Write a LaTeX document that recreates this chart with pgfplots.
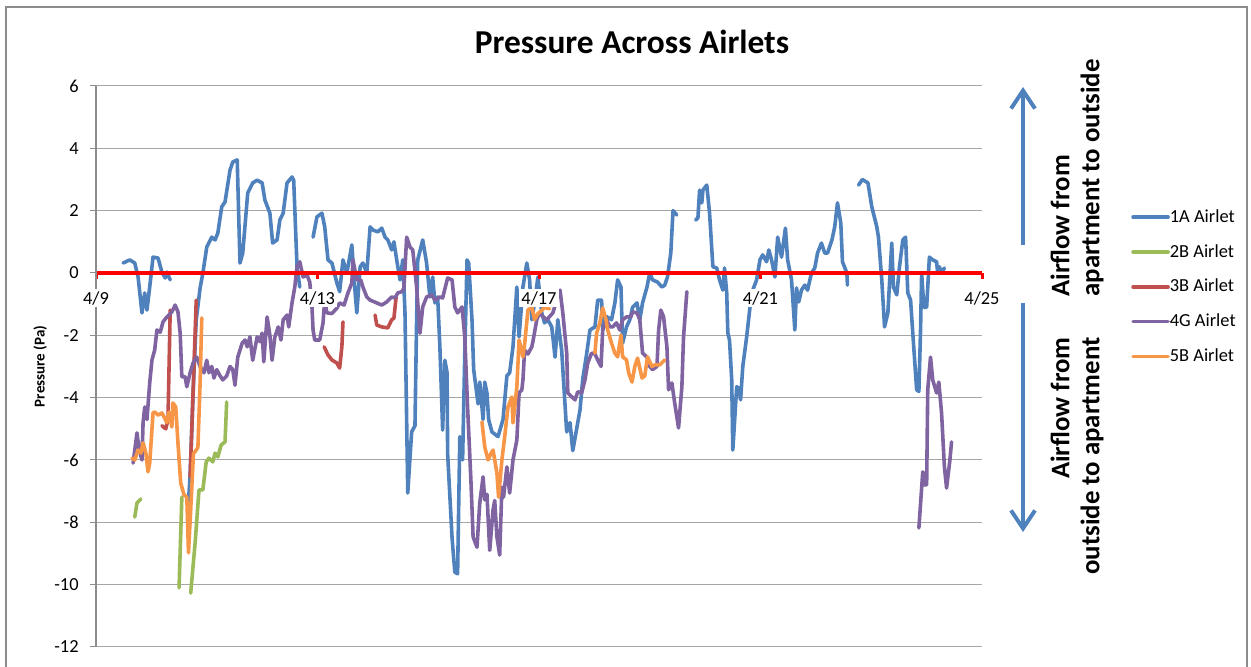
\documentclass[border=0pt]{standalone}
\usepackage{fontspec}
\setmainfont{Carlito}
\usepackage{pgfplots}
\pgfplotsset{compat=1.18}
\usetikzlibrary{arrows.meta}

\definecolor{c1A}{HTML}{4F81BD}
\definecolor{c2B}{HTML}{9BBB59}
\definecolor{c3B}{HTML}{C0504D}
\definecolor{c4G}{HTML}{8064A2}
\definecolor{c5B}{HTML}{F79646}

% grid behind the curves, axis lines and tick labels above them
\pgfplotsset{
  layers/airlets/.define layer set={axis background,axis grid,pre main,main,axis ticks,axis lines,axis tick labels,axis descriptions,axis foreground}{
    grid style={/pgfplots/on layer=axis grid},
    tick style={/pgfplots/on layer=axis ticks},
    axis line style={/pgfplots/on layer=axis lines},
    label style={/pgfplots/on layer=axis descriptions},
    legend style={/pgfplots/on layer=axis descriptions},
    title style={/pgfplots/on layer=axis descriptions},
    colorbar style={/pgfplots/on layer=axis descriptions},
    ticklabel style={/pgfplots/on layer=axis tick labels},
    axis background@ style={/pgfplots/on layer=axis background},
    3d box foreground style={/pgfplots/on layer=axis foreground},
  },
}

\begin{document}
\begin{tikzpicture}
\begin{axis}[
  at={(48pt,10pt)}, anchor=south west,
  scale only axis, width=443pt, height=280.5pt,
  set layers=airlets,
  xmin=0, xmax=16, ymin=-12, ymax=6,
  axis x line=middle, axis y line=left,
  hide obscured x ticks=false, hide obscured y ticks=false,
  x axis line style={draw=red, line width=2pt, -},
  y axis line style={draw=black!45, line width=0.6pt, -},
  xtick={0,4,8,12,16}, xticklabels={4/9,4/13,4/17,4/21,4/25},
  ytick={-12,-10,-8,-6,-4,-2,0,2,4,6},
  yticklabels={-12,-10,-8,-6,-4,-2,0,2,4,6},
  ymajorgrids, grid style={black!35, line width=0.5pt},
  tick align=outside, major tick length=3pt,
  xtick style={draw=red, line width=1.5pt},
  ytick style={draw=black!45, line width=0.5pt},
  ticklabel style={font=\fontsize{9.2}{11}\selectfont},
  xticklabel style={fill=white, inner sep=1pt, yshift=-5pt},
  yticklabel style={inner sep=0pt, xshift=-5.5pt},
  ylabel={Pressure (Pa)},
  ylabel style={font=\bfseries\fontsize{7.5}{9}\selectfont, at={(axis description cs:-0.063,0.5)}, anchor=center},
  unbounded coords=jump,
  every axis plot/.append style={line width=1.8pt, line join=round, line cap=round},
  legend style={at={(axis description cs:1.168,0.781)}, anchor=north west, draw=none, fill=none,
    font=\fontsize{9.2}{11}\selectfont, row sep=9.4pt, inner sep=0pt,
    nodes={inner sep=0pt, text height=6.5pt, text depth=1.5pt}},
  legend cell align=left,
  legend image code/.code={\draw[#1, line width=1.8pt] (0pt,0pt) -- (17.5pt,0pt);},
  /tikz/every even column/.append style={column sep=3pt},
]

% 1A Airlet
\addplot[c1A] coordinates {
(0.49,0.32)(0.61,0.42)(0.70,0.32)(0.76,-0.13)(0.83,-1.28)(0.88,-0.64)(0.92,-1.19)(0.97,-0.45)
(1.03,0.51)(1.12,0.48)(1.19,0.03)(1.25,-0.16)(1.28,0.03)(1.34,-0.22)
(1.50,nan)
(1.66,-7.6)(1.70,-6.5)(1.75,-4.0)(1.81,-1.5)(1.88,-0.48)(1.93,0.0)(2.00,0.83)(2.09,1.15)
(2.15,1.06)(2.20,1.28)(2.27,2.12)(2.33,2.28)(2.42,3.3)(2.47,3.56)(2.55,3.63)(2.60,0.32)
(2.65,0.64)(2.74,2.57)(2.83,2.89)(2.91,2.98)(3.00,2.89)(3.05,2.34)(3.14,1.92)(3.19,0.96)
(3.27,1.06)(3.32,1.7)(3.38,1.92)(3.45,2.89)(3.54,3.08)(3.57,2.98)(3.63,0.2)(3.68,-0.45)
(3.80,nan)
(3.92,1.15)(3.99,1.8)(4.08,1.92)(4.13,1.48)(4.19,0.42)(4.26,0.32)(4.35,-0.32)(4.40,-0.6)
(4.46,0.42)(4.53,0.0)(4.62,0.9)(4.68,-0.64)(4.71,-1.28)(4.77,0.2)(4.82,0.32)(4.89,0.0)
(4.95,1.48)(5.00,1.38)(5.09,1.32)(5.16,1.44)(5.22,1.15)(5.27,1.06)(5.34,0.74)(5.38,1.0)
(5.43,0.42)(5.49,-0.22)(5.54,0.42)(5.58,-1.28)(5.63,-7.06)(5.70,-5.1)(5.76,-4.9)(5.79,-1.5)
(5.81,0.42)(5.90,1.06)(5.97,0.32)(6.03,-0.77)(6.08,-0.13)(6.12,-0.96)(6.17,-0.77)(6.21,-2.37)
(6.26,-5.04)(6.30,-2.8)(6.34,-3.2)(6.35,-5.8)(6.43,-8.5)(6.48,-9.6)(6.53,-9.65)(6.57,-5.25)
(6.62,-6.0)(6.66,-2.57)(6.70,0.42)(6.73,0.32)(6.79,-1.5)(6.82,-3.1)(6.90,-4.2)(6.93,-3.5)
(6.97,-4.3)(6.99,-4.7)(7.02,-3.5)(7.06,-3.85)(7.09,-4.7)(7.15,-5.1)(7.26,-5.25)(7.35,-4.7)
(7.42,-3.3)(7.47,-3.2)(7.53,-2.37)(7.60,-0.45)(7.64,-2.05)(7.71,-0.45)(7.78,0.32)(7.83,-0.22)
(7.87,-1.5)(7.92,-0.96)(7.98,-0.13)(8.05,-1.28)(8.10,-1.6)(8.16,-1.5)(8.23,-1.73)(8.29,-2.7)
(8.34,-1.5)(8.41,-2.5)(8.50,-5.1)(8.56,-4.8)(8.61,-5.7)(8.68,-5.0)(8.74,-4.4)(8.79,-3.4)
(8.86,-2.6)(8.92,-1.83)(9.01,-1.73)(9.06,-0.87)(9.13,-0.87)(9.15,-1.83)(9.22,-1.4)(9.31,-1.5)
(9.37,-0.96)(9.42,-0.22)(9.48,-0.45)(9.51,-2.25)(9.58,-1.73)(9.64,-1.5)(9.69,-1.1)(9.77,-0.96)
(9.82,-1.5)(9.87,-0.96)(9.95,-0.45)(10.00,0.0)(10.05,-0.22)(10.14,-0.29)(10.22,-0.45)(10.27,-0.39)
(10.32,-0.13)(10.38,0.64)(10.42,2.0)(10.49,1.86)
(10.65,nan)
(10.83,1.7)(10.87,1.77)(10.90,2.66)(10.94,2.25)(10.96,2.66)(11.03,2.82)(11.08,1.92)(11.14,0.2)
(11.21,0.16)(11.26,-0.22)(11.32,-0.55)(11.35,0.16)(11.39,-0.64)(11.41,-1.93)(11.44,-2.15)(11.48,-3.43)
(11.50,-5.68)(11.57,-3.65)(11.61,-3.7)(11.64,-4.07)(11.68,-3.0)(11.75,-2.05)(11.81,-1.1)(11.86,-0.55)
(11.93,-0.22)(11.99,0.42)(12.04,0.58)(12.11,0.36)(12.15,0.74)(12.20,0.42)(12.26,-0.13)(12.31,1.15)
(12.38,0.51)(12.45,1.44)(12.49,0.42)(12.56,-0.22)(12.62,-1.83)(12.65,-0.48)(12.69,-0.93)(12.74,-0.55)
(12.80,-0.39)(12.85,-0.55)(12.92,0.0)(12.98,0.16)(13.03,0.64)(13.10,0.96)(13.16,0.64)(13.21,0.64)
(13.29,1.06)(13.34,1.48)(13.39,2.25)(13.45,1.6)(13.48,0.36)(13.56,0.0)(13.57,-0.39)
(13.68,nan)
(13.77,2.82)(13.84,3.0)(13.94,2.89)(14.01,2.12)(14.10,1.48)(14.13,1.15)(14.19,-0.22)(14.24,-1.73)
(14.30,-1.28)(14.37,0.96)(14.40,-0.45)(14.46,-0.7)(14.51,0.2)(14.57,1.06)(14.62,1.15)(14.66,-0.64)
(14.71,-0.87)(14.75,-1.93)(14.82,-3.75)(14.86,-3.8)(14.89,-1.83)(14.91,0.0)(14.95,-1.1)(15.00,-1.1)
(15.05,0.51)(15.11,0.42)(15.18,0.36)(15.20,0.0)(15.23,0.2)(15.27,0.0)(15.32,0.16)
};
\addlegendentry{1A Airlet}

% 2B Airlet
\addplot[c2B] coordinates {
(0.70,-7.83)(0.74,-7.38)(0.81,-7.25)
(1.20,nan)
(1.50,-10.1)(1.55,-7.19)
(1.62,nan)
(1.71,-10.27)(1.79,-8.66)(1.86,-6.96)(1.93,-6.96)(1.99,-6.06)(2.04,-5.94)(2.11,-6.06)(2.15,-5.78)
(2.20,-5.9)(2.26,-5.52)(2.33,-5.42)(2.36,-4.14)
};
\addlegendentry{2B Airlet}

% 3B Airlet
\addplot[c3B] coordinates {
(1.19,-4.9)(1.26,-5.0)(1.30,-4.7)(1.34,-1.19)
(1.50,nan)
(1.70,-6.54)(1.75,-4.0)(1.81,-0.87)
(3.00,nan)
(4.12,-2.37)(4.19,-2.63)(4.26,-2.79)(4.35,-2.89)(4.40,-3.05)(4.44,-2.37)(4.46,-1.57)
(4.80,nan)
(5.04,-1.35)(5.07,-1.67)(5.16,-1.73)(5.27,-1.76)(5.34,-1.5)(5.38,-1.45)(5.42,-0.77)
};
\addlegendentry{3B Airlet}

% 4G Airlet
\addplot[c4G] coordinates {
(0.67,-6.1)(0.74,-5.13)(0.78,-5.68)(0.83,-6.0)(0.85,-4.8)(0.88,-4.3)(0.92,-4.7)(0.97,-3.53)
(1.01,-2.8)(1.06,-2.47)(1.10,-1.83)(1.16,-1.9)(1.21,-1.57)(1.28,-1.41)(1.37,-1.25)(1.43,-1.03)
(1.48,-1.25)(1.52,-1.93)(1.55,-3.33)(1.61,-3.33)(1.64,-3.65)(1.70,-3.2)(1.75,-2.9)(1.82,-2.7)
(1.88,-3.0)(1.95,-3.2)(2.00,-2.8)(2.04,-3.2)(2.09,-3.0)(2.13,-3.37)(2.18,-3.1)(2.24,-3.3)
(2.29,-3.43)(2.36,-3.3)(2.42,-3.0)(2.47,-3.1)(2.51,-3.6)(2.56,-2.7)(2.64,-2.25)(2.69,-2.15)
(2.73,-2.37)(2.78,-2.05)(2.83,-2.8)(2.91,-2.05)(2.96,-2.2)(3.00,-1.93)(3.03,-2.85)(3.09,-1.41)
(3.14,-2.0)(3.18,-2.8)(3.23,-2.05)(3.29,-1.73)(3.34,-2.15)(3.38,-1.5)(3.45,-1.35)(3.48,-1.73)
(3.54,-0.96)(3.59,-0.45)(3.63,0.2)(3.68,0.36)(3.74,-0.13)(3.81,-0.06)(3.86,-0.29)(3.90,-1.09)
(3.92,-1.83)(3.95,-2.15)(4.04,-2.15)(4.10,-1.6)(4.13,-0.87)(4.17,-1.28)(4.26,-1.3)(4.35,-1.13)
(4.40,-0.96)(4.48,-1.03)(4.55,-0.64)(4.62,-0.32)(4.64,0.42)(4.71,-0.22)(4.78,-0.22)(4.82,-0.45)
(4.89,-0.77)(4.95,-0.87)(5.07,-0.96)(5.16,-1.03)(5.25,-0.93)(5.34,-0.77)(5.40,-0.8)(5.45,-0.64)
(5.52,-0.6)(5.56,-0.5)(5.61,1.15)(5.67,0.83)(5.72,0.74)(5.79,-0.45)(5.85,-1.93)(5.90,-1.09)
(5.97,-0.77)(6.06,-0.7)(6.12,-0.87)(6.21,-0.77)(6.26,-0.8)(6.35,-0.16)(6.43,-0.22)(6.48,-1.09)
(6.53,-1.28)(6.61,-1.09)(6.66,-2.05)(6.71,-4.3)(6.77,-6.64)(6.81,-8.47)(6.88,-8.8)(6.93,-7.38)
(6.99,-6.54)(7.02,-7.28)(7.06,-7.1)(7.11,-8.9)(7.17,-7.6)(7.20,-7.3)(7.24,-8.47)(7.29,-9.05)
(7.33,-6.87)(7.36,-7.19)(7.42,-6.22)(7.47,-7.06)(7.53,-6.0)(7.60,-5.36)(7.64,-3.85)(7.69,-3.75)
(7.71,-3.43)(7.74,-2.47)(7.80,-2.6)(7.87,-2.37)(7.89,-2.2)(7.96,-1.5)(8.01,-1.28)(8.07,-1.4)
(8.14,-1.5)(8.19,-1.4)(8.25,-1.28)(8.32,-0.87)(8.38,-0.55)(8.43,-1.28)(8.50,-2.57)(8.52,-3.85)
(8.59,-3.97)(8.65,-4.07)(8.70,-3.81)(8.77,-3.85)(8.83,-3.43)(8.88,-2.89)(8.95,-2.57)(9.01,-2.6)
(9.06,-2.79)(9.12,-3.0)(9.15,-1.83)(9.22,-1.5)(9.28,-1.73)(9.33,-1.73)(9.40,-1.6)(9.46,-1.83)
(9.51,-1.5)(9.58,-1.41)(9.66,-1.41)(9.69,-1.25)(9.77,-1.28)(9.82,-1.5)(9.87,-2.57)(9.95,-2.7)
(10.00,-3.0)(10.05,-3.1)(10.13,-3.0)(10.16,-1.83)(10.20,-1.19)(10.25,-1.41)(10.31,-2.37)(10.34,-3.75)
(10.40,-3.53)(10.45,-4.17)(10.52,-4.97)(10.58,-3.65)(10.61,-2.05)(10.67,-0.6)
(12.00,nan)
(14.86,-8.18)(14.93,-6.38)(14.95,-6.8)(15.00,-6.8)(15.02,-3.75)(15.07,-2.7)(15.11,-3.43)(15.18,-3.85)
(15.22,-3.5)(15.27,-4.5)(15.32,-6.2)(15.36,-6.9)(15.42,-6.0)(15.45,-5.42)
};
\addlegendentry{4G Airlet}

% 5B Airlet
\addplot[c5B] coordinates {
(0.65,-5.94)(0.70,-6.0)(0.76,-5.68)(0.81,-5.78)(0.85,-5.45)(0.90,-5.78)(0.94,-6.38)(0.97,-6.1)
(1.03,-4.49)(1.06,-4.46)(1.12,-4.56)(1.19,-4.49)(1.23,-4.62)(1.28,-4.8)(1.32,-4.46)(1.37,-4.94)
(1.39,-4.17)(1.44,-4.3)(1.48,-5.45)(1.53,-6.74)(1.59,-7.12)(1.64,-7.19)(1.67,-8.98)(1.71,-7.6)
(1.76,-5.8)(1.81,-5.68)(1.84,-5.6)(1.88,-3.53)(1.91,-1.44)
(4.00,nan)
(6.97,-4.78)(7.02,-5.58)(7.08,-6.0)(7.13,-5.8)(7.17,-5.68)(7.24,-6.42)(7.27,-7.19)(7.33,-6.0)
(7.38,-5.26)(7.44,-4.3)(7.51,-3.98)(7.53,-4.81)(7.60,-3.66)(7.64,-2.15)(7.71,-2.69)(7.74,-2.3)
(7.80,-1.19)(7.87,-1.09)(7.92,-1.5)(7.98,-1.3)(8.05,-1.2)(8.10,-1.1)(8.19,-1.15)
(8.60,nan)
(9.01,-2.57)(9.04,-1.93)(9.10,-1.6)(9.15,-1.12)(9.21,-1.5)(9.24,-1.83)(9.31,-2.25)(9.37,-2.57)
(9.42,-2.69)(9.48,-1.99)(9.51,-2.69)(9.58,-2.79)(9.62,-3.21)(9.68,-3.5)(9.73,-3.0)(9.78,-2.73)
(9.86,-3.37)(9.91,-3.3)(9.96,-2.69)(10.04,-3.0)(10.09,-2.95)(10.18,-2.95)(10.27,-2.79)
};
\addlegendentry{5B Airlet}
\end{axis}

\begin{scope}[x=0.5pt,y=0.5pt]
  \draw[black!45, line width=1pt] (6,-20) rectangle (1247,660);
  \node[font=\bfseries\fontsize{16.7}{20}\selectfont] at (632,625) {Pressure Across Airlets};
  % flow direction arrows
  \draw[c1A, line width=2pt, -{Straight Barb[length=9pt,width=12pt,line width=2pt]}] (1023,422) -- (1023,580);
  \draw[c1A, line width=2pt, -{Straight Barb[length=9pt,width=12pt,line width=2pt]}] (1023,364) -- (1023,135);
  \begin{scope}[every node/.style={font=\bfseries\fontsize{13.4}{16}\selectfont, rotate=90, inner sep=0pt}]
    \node[anchor=west] at (1060,370) {Airflow from};
    \node[anchor=west] at (1092,370) {apartment to outside};
    \node[anchor=east] at (1060,330) {Airflow from};
    \node[anchor=east] at (1092,330) {outside to apartment};
  \end{scope}
\end{scope}
\pgfresetboundingbox
\path[use as bounding box] (0pt,0pt) rectangle (625.5pt,333.5pt);
\end{tikzpicture}
\end{document}
